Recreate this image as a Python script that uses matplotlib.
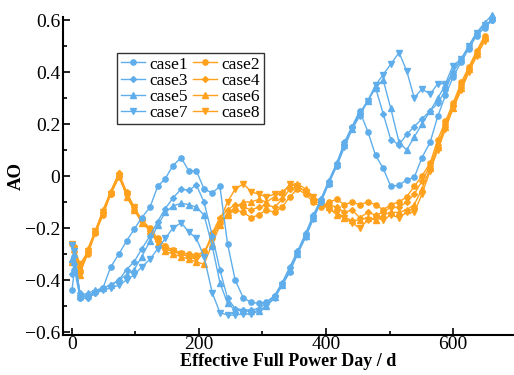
import matplotlib
matplotlib.use('Agg')
import matplotlib.pyplot as plt
from matplotlib.ticker import MultipleLocator, FuncFormatter

plt.rcParams['font.family'] = ['Liberation Serif', 'DejaVu Serif']

BLUE = '#5FAEEB'
ORANGE = '#FFA11C'

days = [0, 4, 13, 25, 37, 49, 61, 74, 86, 98, 110, 123, 135, 147, 159, 172, 184, 196, 208, 221,
        233, 245, 257, 270, 282, 294, 306, 319, 331, 343, 355, 368, 380, 392, 404, 417, 429, 441, 453, 466,
        478, 490, 502, 515, 527, 539, 551, 564, 576, 588, 600, 613, 625, 637, 650]
days_blue = days + [662]

case1 = [-0.44, -0.36, -0.47, -0.46, -0.445, -0.43, -0.35, -0.30, -0.25, -0.205,
         -0.16, -0.12, -0.04, -0.01, 0.04, 0.07, 0.02, 0.02, -0.05, -0.065,
         -0.04, -0.26, -0.40, -0.47, -0.485, -0.49, -0.485, -0.46, -0.42, -0.37,
         -0.30, -0.23, -0.16, -0.10, -0.03, 0.04, 0.12, 0.19, 0.25, 0.17,
         0.08, 0.03, -0.04, -0.035, -0.015, -0.005, 0.07, 0.13, 0.23, 0.31,
         0.38, 0.44, 0.49, 0.54, 0.57, 0.60]
case3 = [-0.375, -0.34, -0.45, -0.47, -0.45, -0.43, -0.42, -0.40, -0.36, -0.33,
         -0.28, -0.23, -0.175, -0.125, -0.085, -0.05, -0.055, -0.035, -0.10, -0.23,
         -0.36, -0.47, -0.51, -0.515, -0.515, -0.51, -0.49, -0.46, -0.41, -0.35,
         -0.29, -0.22, -0.15, -0.09, -0.02, 0.05, 0.13, 0.19, 0.24, 0.29,
         0.34, 0.24, 0.14, 0.12, 0.16, 0.19, 0.22, 0.25, 0.28, 0.33,
         0.40, 0.45, 0.50, 0.55, 0.58, 0.60]
case5 = [-0.32, -0.30, -0.46, -0.45, -0.44, -0.43, -0.42, -0.40, -0.38, -0.36,
         -0.31, -0.25, -0.19, -0.14, -0.115, -0.105, -0.11, -0.12, -0.15, -0.27,
         -0.41, -0.49, -0.515, -0.52, -0.52, -0.52, -0.50, -0.465, -0.42, -0.36,
         -0.30, -0.23, -0.16, -0.09, -0.025, 0.045, 0.12, 0.18, 0.24, 0.29,
         0.34, 0.37, 0.26, 0.13, 0.10, 0.15, 0.20, 0.25, 0.30, 0.35,
         0.40, 0.45, 0.50, 0.55, 0.59, 0.62]
case7 = [-0.265, -0.29, -0.47, -0.47, -0.45, -0.44, -0.43, -0.42, -0.40, -0.38,
         -0.35, -0.32, -0.28, -0.24, -0.20, -0.18, -0.215, -0.24, -0.31, -0.45,
         -0.525, -0.535, -0.535, -0.53, -0.53, -0.52, -0.50, -0.47, -0.42, -0.36,
         -0.30, -0.235, -0.165, -0.10, -0.03, 0.04, 0.11, 0.18, 0.23, 0.29,
         0.35, 0.39, 0.43, 0.475, 0.405, 0.30, 0.335, 0.315, 0.355, 0.355,
         0.425, 0.45, 0.50, 0.55, 0.58, 0.60]

case2 = [-0.26, -0.33, -0.37, -0.30, -0.22, -0.15, -0.07, -0.005, -0.07, -0.13,
         -0.17, -0.20, -0.24, -0.27, -0.285, -0.295, -0.30, -0.305, -0.29, -0.24,
         -0.18, -0.15, -0.13, -0.14, -0.16, -0.15, -0.13, -0.14, -0.12, -0.08,
         -0.05, -0.07, -0.10, -0.12, -0.10, -0.09, -0.11, -0.10, -0.11, -0.10,
         -0.11, -0.13, -0.11, -0.10, -0.08, -0.04, 0.0, 0.05, 0.14, 0.21,
         0.28, 0.36, 0.42, 0.48, 0.54]
case4 = [-0.33, -0.27, -0.36, -0.29, -0.21, -0.14, -0.06, 0.01, -0.06, -0.12,
         -0.17, -0.21, -0.25, -0.28, -0.29, -0.30, -0.31, -0.31, -0.30, -0.22,
         -0.16, -0.13, -0.11, -0.12, -0.13, -0.12, -0.11, -0.12, -0.09, -0.05,
         -0.04, -0.06, -0.09, -0.11, -0.11, -0.12, -0.14, -0.13, -0.16, -0.14,
         -0.15, -0.14, -0.12, -0.12, -0.10, -0.07, -0.02, 0.04, 0.12, 0.20,
         0.27, 0.35, 0.41, 0.47, 0.53]
case6 = [-0.33, -0.28, -0.38, -0.28, -0.21, -0.13, -0.06, 0.01, -0.08, -0.13,
         -0.18, -0.21, -0.26, -0.29, -0.30, -0.31, -0.32, -0.33, -0.34, -0.26,
         -0.19, -0.15, -0.12, -0.10, -0.10, -0.09, -0.10, -0.08, -0.06, -0.04,
         -0.03, -0.05, -0.08, -0.10, -0.12, -0.15, -0.16, -0.17, -0.17, -0.16,
         -0.17, -0.15, -0.14, -0.14, -0.13, -0.11, -0.05, 0.03, 0.11, 0.19,
         0.26, 0.34, 0.41, 0.47, 0.53]
case8 = [-0.26, -0.28, -0.34, -0.29, -0.21, -0.14, -0.07, 0.0, -0.07, -0.12,
         -0.17, -0.21, -0.25, -0.28, -0.29, -0.30, -0.31, -0.32, -0.30, -0.23,
         -0.17, -0.10, -0.05, -0.03, -0.06, -0.07, -0.08, -0.07, -0.07, -0.03,
         -0.04, -0.06, -0.08, -0.10, -0.13, -0.14, -0.16, -0.18, -0.20, -0.17,
         -0.16, -0.17, -0.15, -0.16, -0.14, -0.14, -0.07, 0.02, 0.10, 0.18,
         0.26, 0.33, 0.40, 0.46, 0.52]

labels = ['case1', 'case2', 'case3', 'case4', 'case5', 'case6', 'case7', 'case8']
markers = ['o', 'o', 'D', 'D', '^', '^', 'v', 'v']

fig = plt.figure(figsize=(5.14, 3.75), dpi=100)
ax = fig.add_axes([0.1226, 0.1077, 0.8774, 0.8459])

series = [case1, case2, case3, case4, case5, case6, case7, case8]
handles = {}
for i, (ys, lab, mk) in enumerate(zip(series, labels, markers)):
    blue = i % 2 == 0
    xs = days_blue if blue else days
    ms = 3.0 if mk == 'D' else 3.8
    h, = ax.plot(xs, ys, color=BLUE if blue else ORANGE, marker=mk, ms=ms,
                 lw=1.0, label=lab, zorder=3 if blue else 2, clip_on=False)
    handles[lab] = h

ax.set_xlim(-14, 696)
ax.set_ylim(-0.61, 0.61)
ax.spines['top'].set_visible(False)
ax.spines['right'].set_visible(False)
for s in ['left', 'bottom']:
    ax.spines[s].set_linewidth(1.5)

ax.xaxis.set_major_locator(MultipleLocator(200))
ax.xaxis.set_minor_locator(MultipleLocator(100))
ax.yaxis.set_major_locator(MultipleLocator(0.2))
ax.yaxis.set_minor_locator(MultipleLocator(0.1))
ax.yaxis.set_major_formatter(FuncFormatter(
    lambda v, p: '0' if abs(v) < 1e-9 else ('%.1f' % v).replace('-', '\u2212')))
ax.tick_params(which='both', direction='in', width=1.2, labelsize=14)
ax.tick_params(axis='x', pad=1)
ax.tick_params(axis='y', pad=2)
ax.tick_params(which='major', length=5)
ax.tick_params(which='minor', length=3)

ax.set_xlabel('Effective Full Power Day / d', fontsize=13, fontweight='bold', labelpad=0)
ax.set_ylabel('AO', fontsize=13.5, fontweight='bold', labelpad=0)

order = ['case1', 'case3', 'case5', 'case7', 'case2', 'case4', 'case6', 'case8']
leg = ax.legend([handles[k] for k in order], order, ncol=2, loc='upper left',
                bbox_to_anchor=(0.12, 0.888),
                fontsize=12.5, frameon=True, fancybox=False, edgecolor='black',
                handlelength=1.4, handletextpad=0.25, columnspacing=0.3,
                labelspacing=0.0, borderpad=0.2, borderaxespad=0)
leg.get_frame().set_linewidth(1.0)

fig.savefig('out.png', dpi=100)
